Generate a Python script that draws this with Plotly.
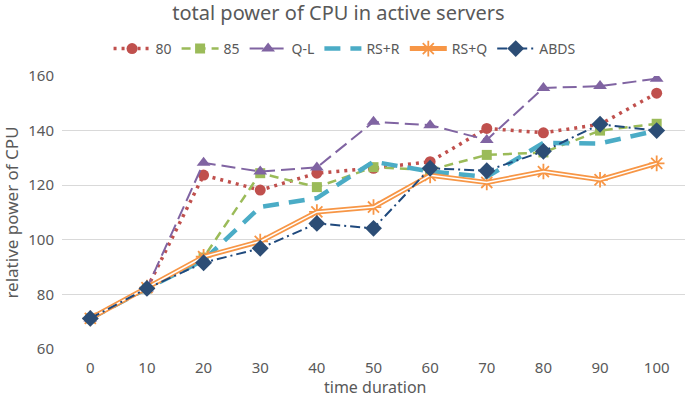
import plotly.graph_objects as go

x_vals = [0, 10, 20, 30, 40, 50, 60, 70, 80, 90, 100]
s80 = [71.2, 82.2, 123.7, 118.2, 124.4, 126.2, 128.6, 140.8, 139.2, 142.3, 153.7]
s85 = [71.2, 82.2, 93.5, 124.4, 119.3, 126.6, 125.6, 131.1, 132.0, 140.0, 142.5]
sQL = [71.2, 82.2, 128.2, 125.0, 126.5, 143.2, 142.0, 136.6, 155.6, 156.3, 159.0]
sRSR = [71.2, 82.2, 92.5, 112.0, 115.3, 128.6, 125.0, 123.0, 135.5, 135.3, 140.0]
sRSQ = [71.2, 82.5, 93.8, 99.4, 110.2, 112.0, 123.6, 121.0, 125.0, 122.0, 128.0]
sABDS = [71.2, 82.2, 91.6, 96.9, 106.0, 104.2, 126.2, 125.3, 132.4, 142.3, 140.0]

names = ["80", "85", "Q-L", "RS+R", "RS+Q", "ABDS"]
title_text = "total power of CPU in active servers"
x_title = "time duration"
y_title = "relative power of CPU"

fig = go.Figure()
fig.add_trace(go.Scatter(x=x_vals, y=s80, name=names[0], mode="lines+markers",
                         line=dict(color="#C0504D", width=3.5, dash="3px,5px"),
                         marker=dict(symbol="circle", size=11, color="#C0504D")))
fig.add_trace(go.Scatter(x=x_vals, y=s85, name=names[1], mode="lines+markers",
                         line=dict(color="#9BBB59", width=2.5, dash="9px,6px"),
                         marker=dict(symbol="square", size=10, color="#9BBB59")))
fig.add_trace(go.Scatter(x=x_vals, y=sQL, name=names[2], mode="lines+markers",
                         line=dict(color="#8064A2", width=2, dash="14px,6px"),
                         marker=dict(symbol="triangle-up", size=12, color="#8064A2")))
fig.add_trace(go.Scatter(x=x_vals, y=sRSR, name=names[3], mode="lines",
                         line=dict(color="#4BACC6", width=4.5, dash="16px,10px")))
fig.add_trace(go.Scatter(x=x_vals, y=sRSQ, name=names[4], mode="lines+markers",
                         line=dict(color="#F79646", width=5),
                         marker=dict(symbol="asterisk-open", size=13,
                                     line=dict(color="#F79646", width=1.8))))
fig.add_trace(go.Scatter(x=x_vals, y=sRSQ, name=names[4], mode="lines", showlegend=False,
                         hoverinfo="skip",
                         line=dict(color="white", width=1.5)))
fig.add_trace(go.Scatter(x=x_vals, y=sABDS, name=names[5], mode="lines+markers",
                         line=dict(color="#1F497D", width=2, dash="10px,4px,2px,4px"),
                         marker=dict(symbol="diamond", size=13, color="#2C4D75")))

font_family = "Noto Sans"
gray = "#595959"
fig.update_layout(
    width=685, height=401,
    margin=dict(l=62, r=0, t=76, b=52, autoexpand=False),
    paper_bgcolor="white", plot_bgcolor="white",
    font=dict(family=font_family, color=gray, size=14),
    title=dict(text=title_text, x=0.494, xanchor="center", xref="container",
               y=1 - 13 / 401, yanchor="middle", yref="container",
               font=dict(size=20, color=gray, family=font_family)),
    legend=dict(orientation="h", x=0.503, xanchor="center", xref="container",
                y=1 - 49 / 401, yanchor="middle", yref="container",
                font=dict(size=14, color=gray), itemwidth=37,
                tracegroupgap=0, bgcolor="rgba(0,0,0,0)"),
    showlegend=True,
    annotations=[dict(text=x_title, xref="paper", x=0.503, xanchor="center",
                      yref="paper", y=-38 / 273, yanchor="middle", showarrow=False,
                      font=dict(size=16, color=gray, family=font_family))],
)
fig.update_xaxes(range=[-5, 105], tickmode="array", tickvals=x_vals,
                 ticktext=[str(v) for v in x_vals], showgrid=False, zeroline=False,
                 showline=False, ticks="", tickfont=dict(size=15, color=gray),
                 ticklabelstandoff=8, automargin=False)
fig.update_yaxes(range=[60, 160], dtick=20, showgrid=True, gridcolor="#D9D9D9",
                 gridwidth=1.3, zeroline=False, showline=False, ticks="",
                 tickfont=dict(size=15, color=gray), ticklabelstandoff=7,
                 automargin=False,
                 title=dict(text=y_title, font=dict(size=17, color=gray), standoff=8))

fig.write_html("out.html", config={"displayModeBar": False},
               post_script="document.body.style.margin='0';document.body.style.padding='0';")
